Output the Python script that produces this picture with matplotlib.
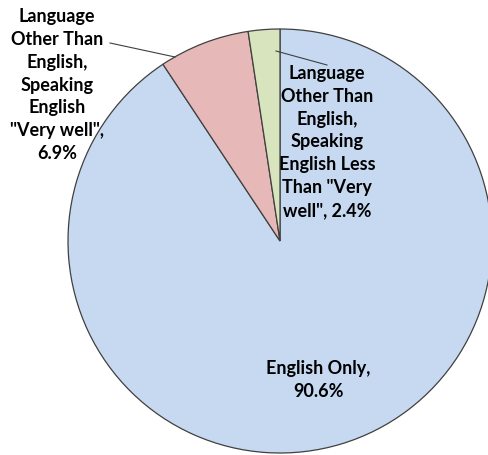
import matplotlib
matplotlib.use("Agg")
import matplotlib.pyplot as plt

# ---------- data ----------
CATEGORIES = [
    "English Only",
    "Language\nOther Than\nEnglish,\nSpeaking\nEnglish\n\"Very well\"",
    "Language\nOther Than\nEnglish,\nSpeaking\nEnglish Less\nThan \"Very\nwell\"",
]
SHARES = [90.6, 6.9, 2.4]
COLORS = ["#C6D9F1", "#E6B9B8", "#D7E4BD"]

# ---------- layout (pixels) ----------
W, H, DPI = 488, 455, 100
CX, CY, R = 280, 241, 212


def px(x, y):
    """pixel position (from top-left) -> data coords of the unit pie"""
    return (x - CX) / R, (CY - y) / R


def main():
    plt.rcParams["font.family"] = ["Lato", "DejaVu Sans"]
    fig = plt.figure(figsize=(W / DPI, H / DPI), dpi=DPI)
    ax = fig.add_axes([0, 0, 1, 1])

    ax.pie(
        SHARES,
        colors=COLORS,
        startangle=90,
        counterclock=False,
        radius=1,
        wedgeprops=dict(edgecolor="#404040", linewidth=0.9),
    )

    ax.set_xlim(-CX / R, (W - CX) / R)
    ax.set_ylim((CY - H) / R, CY / R)
    ax.set_aspect("auto")
    ax.axis("off")

    txt = dict(ha="center", va="center", fontsize=13, fontweight="bold",
               linespacing=1.42, color="black")

    # English Only
    ax.text(*px(318, 380), f"{CATEGORIES[0]},\n{SHARES[0]}%", **txt)

    # "Very well" slice, label outside on the left
    ax.text(*px(57, 85), f"{CATEGORIES[1]},\n{SHARES[1]}%", **txt)
    ax.plot(*zip(px(110, 43), px(175, 57)), color="#404040", lw=0.8)

    # less than "very well" slice, label sits over the blue slice
    ax.text(*px(327, 142), f"{CATEGORIES[2]}, {SHARES[2]}%", **txt)
    ax.plot(*zip(px(276, 51), px(327, 65)), color="#404040", lw=0.8)

    fig.savefig("out.png", dpi=DPI)
    plt.close(fig)


if __name__ == "__main__":
    main()
